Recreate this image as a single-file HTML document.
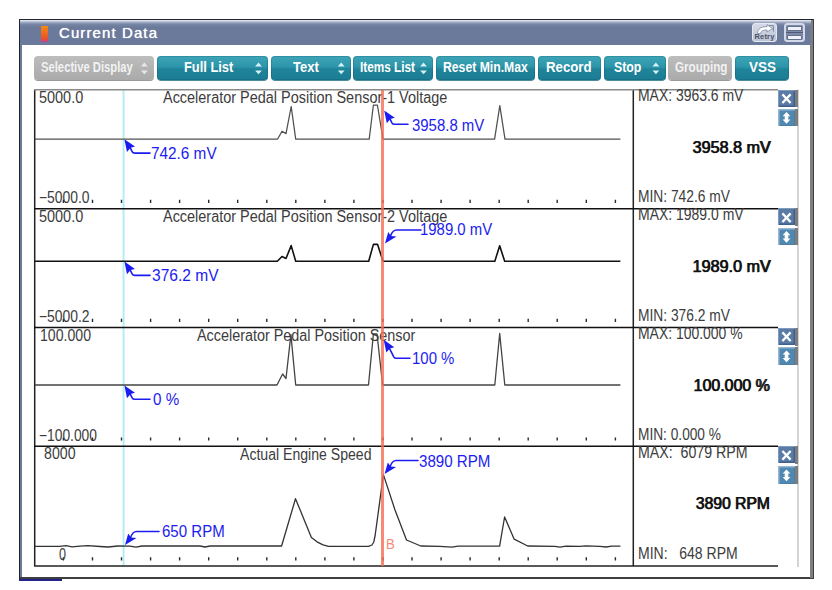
<!DOCTYPE html>
<html lang="en"><head><meta charset="utf-8"><title>Current Data</title>
<style>
html,body{margin:0;padding:0;background:#fff}
body{width:832px;height:590px;position:relative;overflow:hidden;font-family:"Liberation Sans",sans-serif;color:#222}
.abs{position:absolute}
.tbar{position:absolute;left:20.4px;top:20px;width:791px;height:25px;background:linear-gradient(#eceff5 0,#aab4ca 2px,#7a88a7 4px,#6b7a9b 7px,#6b7a9b 100%)}
.ttl{position:absolute;left:59px;top:23px;font-size:15px;line-height:20px;color:#fff;letter-spacing:1.1px;white-space:nowrap;text-shadow:0 0 .8px #fff}
.btn{position:absolute;top:55.5px;height:24px;border-radius:4px;box-sizing:border-box;background:linear-gradient(#3fa5b8 0,#2d95aa 45%,#1f8399 55%,#1b7d94 100%);box-shadow:0 .8px 0 #15687c,inset 0 0 0 1px rgba(0,70,95,.22)}
.btn.g{background:linear-gradient(#bdbdbd,#aaa);box-shadow:0 1px 0 #999}
.bt{position:absolute;top:55.3px;height:24px;color:#fff;font-size:14px;font-weight:bold;line-height:24px;white-space:nowrap;transform-origin:0 50%}
.bt.g{color:#f2f2f2}
.lab{position:absolute;font-size:16px;line-height:18px;white-space:nowrap;color:#3c3c3c;transform-origin:0 0}
.blue{position:absolute;font-size:16px;line-height:18px;white-space:nowrap;color:#1c1cf0;transform-origin:0 0}
.big{position:absolute;font-size:16px;line-height:18px;white-space:nowrap;color:#111;transform-origin:100% 0;text-shadow:.8px 0 0 #111;-webkit-text-stroke:.25px #111}
.xb{position:absolute;left:778px;width:17.2px;height:17.6px;background:#5a7ba6;box-shadow:inset 1px 1px 0 #7f9abd,inset -1.5px -1.5px 0 #3f608d;box-sizing:border-box}
.gb{position:absolute;left:795.2px;width:2.8px;height:17.6px;background:#7d7d7d}
.ub{position:absolute;left:778px;width:17.2px;height:17.4px;background:#5088b0;box-shadow:inset 1.5px 1.5px 0 #95b8d2,inset -1px -1px 0 #4a7ea6;box-sizing:border-box}
svg{position:absolute;left:0;top:0}
</style></head><body>
<div class="abs" style="left:18.8px;top:18.6px;width:795.3px;height:560.4px;background:#3e3e40"></div>
<div class="abs" style="left:18.8px;top:18.6px;width:1.6px;height:560.4px;background:#1c2230"></div>
<div class="abs" style="left:20.4px;top:20px;width:1.2px;height:556.8px;background:#6b7a9b"></div>
<div class="abs" style="left:21.6px;top:20px;width:788.8px;height:556.8px;background:#fff"></div>
<div class="abs" style="left:810.4px;top:20px;width:2.2px;height:557.6px;background:#7f7f7f"></div>
<div class="abs" style="left:18.8px;top:18.6px;width:793.8px;height:1.4px;background:#23262e"></div>
<div class="tbar"></div>
<div class="abs" style="left:41px;top:26px;width:7px;height:16px;background:linear-gradient(#f78a12,#e8502a 80%,#c0409a)"></div>
<div class="ttl">Current Data</div>
<div class="abs" style="left:752px;top:23px;width:25px;height:19px;box-sizing:border-box;border:1px solid #e4e8f0;border-radius:3px;background:linear-gradient(#d4dae6,#bcc5d6)"></div>
<svg width="832" height="590" viewBox="0 0 832 590" fill="none"><path d="M757.5,33.5 C757.5,28.5 762,26.3 767,26.8 L767,24.6 L772.6,28.6 L767,32 L767,30 C763,29.8 761,31 760.6,33.5Z" fill="#fff" stroke="#7a869e" stroke-width="0.8" stroke-linejoin="round"/><path d="M769,25.6 H773.4 V31.6" stroke="#7a869e" stroke-width="1"/></svg>
<div class="abs" style="left:753px;top:33.4px;width:23px;text-align:center;font-size:7.5px;line-height:8px;font-weight:bold;color:#4a5266;letter-spacing:.2px">Retry</div>
<div class="abs" style="left:783.5px;top:23px;width:21px;height:19px;box-sizing:border-box;border:2px solid #d3d9e6;border-radius:3.5px;background:#7c89a8"></div>
<div class="abs" style="left:787.5px;top:27px;width:13px;height:3.4px;background:#eef1f7;box-shadow:0 0 0 .6px #55627f"></div>
<div class="abs" style="left:787.5px;top:35.6px;width:13px;height:3.4px;background:#eef1f7;box-shadow:0 0 0 .6px #55627f"></div>
<div class="abs" style="left:785.5px;top:32.4px;width:17px;height:1px;background:#4f5b78"></div>

<svg width="832" height="590" viewBox="0 0 832 590" style="z-index:3;pointer-events:none">
<path d="M140.9,66.4 L144.3,62.6 L147.70000000000002,66.4Z M140.9,70.4 L144.3,74.2 L147.70000000000002,70.4Z" fill="#e8e8e8"/>
<path d="M255.1,66.4 L258.5,62.6 L261.9,66.4Z M255.1,70.4 L258.5,74.2 L261.9,70.4Z" fill="#d4f2f8"/>
<path d="M337.8,66.4 L341.2,62.6 L344.59999999999997,66.4Z M337.8,70.4 L341.2,74.2 L344.59999999999997,70.4Z" fill="#d4f2f8"/>
<path d="M420.1,66.4 L423.5,62.6 L426.9,66.4Z M420.1,70.4 L423.5,74.2 L426.9,70.4Z" fill="#d4f2f8"/>
<path d="M652.5,66.4 L655.9,62.6 L659.3,66.4Z M652.5,70.4 L655.9,74.2 L659.3,70.4Z" fill="#d4f2f8"/>
</svg>
<div class="btn g" style="left:34px;width:120px"></div>
<div class="bt g" style="left:41.3px;transform:scaleX(0.803)">Selective Display</div>
<div class="btn " style="left:157px;width:111px"></div>
<div class="bt " style="left:184px;transform:scaleX(0.918)">Full List</div>
<div class="btn " style="left:271px;width:80px"></div>
<div class="bt " style="left:292.6px;transform:scaleX(0.929)">Text</div>
<div class="btn " style="left:353px;width:80px"></div>
<div class="bt " style="left:360.3px;transform:scaleX(0.842)">Items List</div>
<div class="btn " style="left:436px;width:99px"></div>
<div class="bt " style="left:443px;transform:scaleX(0.872)">Reset Min.Max</div>
<div class="btn " style="left:538px;width:63px"></div>
<div class="bt " style="left:545.7px;transform:scaleX(0.944)">Record</div>
<div class="btn " style="left:604px;width:62px"></div>
<div class="bt " style="left:614px;transform:scaleX(0.881)">Stop</div>
<div class="btn g" style="left:668px;width:64px"></div>
<div class="bt g" style="left:674.5px;transform:scaleX(0.833)">Grouping</div>
<div class="btn " style="left:735px;width:54px"></div>
<div class="bt " style="left:748.6px;transform:scaleX(0.964)">VSS</div>
<div class="abs" style="left:18.8px;top:578.6px;width:43.2px;height:2.2px;background:#23238c"></div>
<svg width="832" height="590" viewBox="0 0 832 590" fill="none">
<rect x="122.6" y="90" width="1.9" height="476" fill="#aeeef0"/>
<path d="M34.7,89.5 V566" stroke="#222" stroke-width="1.5"/>
<path d="M633.3,89.5 V566" stroke="#222" stroke-width="1.5"/>
<path d="M798,89.5 V567" stroke="#cdcdcd" stroke-width="1.7"/>
<path d="M34,89.7 H778" stroke="#8a8a8a" stroke-width="1.5"/>
<path d="M34,208.7 H778" stroke="#111" stroke-width="1.5"/>
<path d="M34,327.6 H778" stroke="#111" stroke-width="1.5"/>
<path d="M34,446.3 H778" stroke="#111" stroke-width="1.5"/>
<path d="M34,566 H778" stroke="#222" stroke-width="1.5"/>
<path d="M63.4,199.8v3.2M92.5,199.8v3.2M121.5,199.8v3.2M150.6,199.8v3.2M179.6,199.8v3.2M208.7,199.8v3.2M237.7,199.8v3.2M266.8,199.8v3.2M295.8,199.8v3.2M324.9,199.8v3.2M353.9,199.8v3.2M382.9,199.8v3.2M412.0,199.8v3.2M441.1,199.8v3.2M470.1,199.8v3.2M499.2,199.8v3.2M528.2,199.8v3.2M557.2,199.8v3.2M586.3,199.8v3.2M615.4,199.8v3.2" stroke="#2a2a2a" stroke-width="1.4"/>
<path d="M63.4,318.7v3.2M92.5,318.7v3.2M121.5,318.7v3.2M150.6,318.7v3.2M179.6,318.7v3.2M208.7,318.7v3.2M237.7,318.7v3.2M266.8,318.7v3.2M295.8,318.7v3.2M324.9,318.7v3.2M353.9,318.7v3.2M382.9,318.7v3.2M412.0,318.7v3.2M441.1,318.7v3.2M470.1,318.7v3.2M499.2,318.7v3.2M528.2,318.7v3.2M557.2,318.7v3.2M586.3,318.7v3.2M615.4,318.7v3.2" stroke="#2a2a2a" stroke-width="1.4"/>
<path d="M63.4,437.4v3.2M92.5,437.4v3.2M121.5,437.4v3.2M150.6,437.4v3.2M179.6,437.4v3.2M208.7,437.4v3.2M237.7,437.4v3.2M266.8,437.4v3.2M295.8,437.4v3.2M324.9,437.4v3.2M353.9,437.4v3.2M382.9,437.4v3.2M412.0,437.4v3.2M441.1,437.4v3.2M470.1,437.4v3.2M499.2,437.4v3.2M528.2,437.4v3.2M557.2,437.4v3.2M586.3,437.4v3.2M615.4,437.4v3.2" stroke="#2a2a2a" stroke-width="1.4"/>
<path d="M63.4,557.3v3.2M92.5,557.3v3.2M121.5,557.3v3.2M150.6,557.3v3.2M179.6,557.3v3.2M208.7,557.3v3.2M237.7,557.3v3.2M266.8,557.3v3.2M295.8,557.3v3.2M324.9,557.3v3.2M353.9,557.3v3.2M382.9,557.3v3.2M412.0,557.3v3.2M441.1,557.3v3.2M470.1,557.3v3.2M499.2,557.3v3.2M528.2,557.3v3.2M557.2,557.3v3.2M586.3,557.3v3.2M615.4,557.3v3.2" stroke="#2a2a2a" stroke-width="1.4"/>
<path d="M35,139.2 H277.5 L282,131.2 L286,133.6 L291.2,106.5 L295.7,139.2 H369.2 L373.4,105 H377.4 L383,139.2 H494.6 L499.8,105.6 L505,139.2 H620.4" stroke="#505050" stroke-width="1.25" stroke-linejoin="round"/>
<path d="M35,261.3 H277.3 L282,256.5 L286,258.5 L291.2,245.6 L295.7,261.3 H368.7 L373.4,244.4 H377.6 L383,261.3 H494.8 L499.7,245.8 L504.7,261.3 H620.4" stroke="#111" stroke-width="1.6" stroke-linejoin="round"/>
<path d="M35,385 H277 L282.6,374 L286,378.5 L290.9,334.6 L295.7,385 H368.5 L373.4,333.8 H377 L382.6,385 H494.8 L499.7,333.5 L504.8,385 H620.4" stroke="#444" stroke-width="1.3" stroke-linejoin="round"/>
<path d="M35,546.3 H60 L66,545.6 L72,546.8 L80,546.2 L88,545.6 L100,546.5 L108,547 L118,546 L130,546.2 L136,547.2 L142,546 H200 L205,547 L210,546 H281.6 L295.5,498.7 L311.4,537.4 L317,541.8 L323,544.8 L328.5,546.3 H368.6 L372,545 L373.8,542 L375.2,535 L383.4,474.6 L395,510 L406.5,540 L420.8,546 L440,546.3 L452,547.2 L458,546.2 H499.6 L504.6,517 L514.2,539.2 L527.7,546 L555,546.3 L560,547.2 L566,546.2 L580,546.4 L586,545.8 L600,546.4 L606,547 L612,546.2 L620.4,546.2" stroke="#333" stroke-width="1.3" stroke-linejoin="round"/>
<path d="M124.4,139.2 L135.0,146.6 L130.6,147.79999999999998 L127.0,152.0Z" fill="#1c1cf0"/>
<path d="M129.4,146.2 L132.3,151.9 Q132.9,153.1 134.8,153.1 H150" stroke="#1c1cf0" stroke-width="1.6" stroke-linecap="round" fill="none"/>
<path d="M384.2,110.4 L394.8,117.80000000000001 L390.4,119.0 L386.8,123.2Z" fill="#1c1cf0"/>
<path d="M389.2,117.4 L392.1,123.1 Q392.8,124.3 394.5,124.3 H408" stroke="#1c1cf0" stroke-width="1.6" stroke-linecap="round" fill="none"/>
<path d="M124.4,261.5 L135.0,268.9 L130.6,270.1 L127.0,274.3Z" fill="#1c1cf0"/>
<path d="M129.4,268.5 L132.3,274.2 Q132.9,275.4 134.8,275.4 H150" stroke="#1c1cf0" stroke-width="1.6" stroke-linecap="round" fill="none"/>
<path d="M385,243.5 L388.2,232.0 L391,235.9 L396.5,236.5Z" fill="#1c1cf0"/>
<path d="M390.5,236.0 C391.6,233.0 393,230.0 396.5,230.0 H421" stroke="#1c1cf0" stroke-width="1.6" stroke-linecap="round" fill="none"/>
<path d="M124.4,385.4 L135.0,392.79999999999995 L130.6,394.0 L127.0,398.2Z" fill="#1c1cf0"/>
<path d="M129.4,392.4 L132.3,398.1 Q132.9,399.3 134.8,399.3 H150" stroke="#1c1cf0" stroke-width="1.6" stroke-linecap="round" fill="none"/>
<path d="M383.7,339.8 L394.3,347.2 L389.9,348.40000000000003 L386.3,352.6Z" fill="#1c1cf0"/>
<path d="M388.7,346.8 L393.9,357.1 Q394.6,358.3 396.3,358.3 H410" stroke="#1c1cf0" stroke-width="1.6" stroke-linecap="round" fill="none"/>
<path d="M125,545 L128.2,533.5 L131,537.4 L136.5,538Z" fill="#1c1cf0"/>
<path d="M130.5,537.5 C131.6,534.5 133,531.5 136.5,531.5 H159" stroke="#1c1cf0" stroke-width="1.6" stroke-linecap="round" fill="none"/>
<path d="M384.6,474 L387.8,462.5 L390.6,466.4 L396.1,467Z" fill="#1c1cf0"/>
<path d="M390.1,466.5 C391.20000000000005,463.5 392.6,460.5 396.1,460.5 H418" stroke="#1c1cf0" stroke-width="1.6" stroke-linecap="round" fill="none"/>
</svg>
<div class="lab" style="left:162.9px;top:89.2px;transform:scaleX(0.903)">Accelerator Pedal Position Sensor-1 Voltage</div>
<div class="lab" style="left:38.7px;top:88.5px;transform:scaleX(0.903)">5000.0</div>
<div class="lab" style="left:39.4px;top:189.4px;transform:scaleX(0.868)">&minus;5000.0</div>
<div class="lab" style="left:637.6px;top:87.4px;transform:scaleX(0.871)">MAX: 3963.6 mV</div>
<div class="lab" style="left:637.6px;top:188.0px;transform:scaleX(0.862)">MIN: 742.6 mV</div>
<div class="big" style="right:62.0px;top:138.7px;transform:scaleX(1.010)">3958.8 mV</div>
<div class="xb" style="top:89.6px;height:17.3px"></div><div class="gb" style="top:89.6px;height:17.7px"></div><div class="ub" style="top:109.0px;height:17.4px"></div><div class="gb" style="top:109.0px;height:17.4px"></div>
<div class="lab" style="left:162.9px;top:208.2px;transform:scaleX(0.903)">Accelerator Pedal Position Sensor-2 Voltage</div>
<div class="lab" style="left:38.7px;top:207.5px;transform:scaleX(0.903)">5000.0</div>
<div class="lab" style="left:39.4px;top:308.4px;transform:scaleX(0.868)">&minus;5000.2</div>
<div class="lab" style="left:637.6px;top:206.4px;transform:scaleX(0.873)">MAX: 1989.0 mV</div>
<div class="lab" style="left:637.6px;top:307.0px;transform:scaleX(0.862)">MIN: 376.2 mV</div>
<div class="big" style="right:62.0px;top:257.7px;transform:scaleX(1.010)">1989.0 mV</div>
<div class="xb" style="top:208.3px;height:17.1px"></div><div class="gb" style="top:208.3px;height:17.5px"></div><div class="ub" style="top:228.0px;height:17.3px"></div><div class="gb" style="top:228.0px;height:17.3px"></div>
<div class="lab" style="left:196.6px;top:327.2px;transform:scaleX(0.899)">Accelerator Pedal Position Sensor</div>
<div class="lab" style="left:39.6px;top:326.5px;transform:scaleX(0.882)">100.000</div>
<div class="lab" style="left:39.4px;top:427.4px;transform:scaleX(0.863)">&minus;100.000</div>
<div class="lab" style="left:637.6px;top:325.4px;transform:scaleX(0.871)">MAX: 100.000 %</div>
<div class="lab" style="left:637.6px;top:426.0px;transform:scaleX(0.856)">MIN: 0.000 %</div>
<div class="big" style="right:62.0px;top:376.7px;transform:scaleX(0.996)">100.000 %</div>
<div class="xb" style="top:327.6px;height:17.6px"></div><div class="gb" style="top:327.6px;height:18.0px"></div><div class="ub" style="top:347.4px;height:17.3px"></div><div class="gb" style="top:347.4px;height:17.3px"></div>
<div class="lab" style="left:239.7px;top:445.8px;transform:scaleX(0.880)">Actual Engine Speed</div>
<div class="lab" style="left:43.5px;top:445.1px;transform:scaleX(0.885)">8000</div>
<div class="lab" style="left:59.4px;top:545.7px;transform:scaleX(0.787)">0</div>
<div class="lab" style="left:637.6px;top:444.0px;transform:scaleX(0.887)">MAX: &nbsp;6079 RPM</div>
<div class="lab" style="left:637.6px;top:544.6px;transform:scaleX(0.876)">MIN: &nbsp; 648 RPM</div>
<div class="big" style="right:62.0px;top:495.3px;transform:scaleX(0.979)">3890 RPM</div>
<div class="xb" style="top:446.3px;height:17.2px"></div><div class="gb" style="top:446.3px;height:17.6px"></div><div class="ub" style="top:466.4px;height:17.8px"></div><div class="gb" style="top:466.4px;height:17.8px"></div>
<div class="blue" style="left:151.0px;top:145.3px;transform:scaleX(0.958)">742.6 mV</div>
<div class="blue" style="left:411.5px;top:116.8px;transform:scaleX(0.934)">3958.8 mV</div>
<div class="blue" style="left:151.6px;top:267.1px;transform:scaleX(0.972)">376.2 mV</div>
<div class="blue" style="left:420.0px;top:220.6px;transform:scaleX(0.933)">1989.0 mV</div>
<div class="blue" style="left:152.6px;top:390.6px;transform:scaleX(0.947)">0 %</div>
<div class="blue" style="left:411.8px;top:349.6px;transform:scaleX(0.935)">100 %</div>
<div class="blue" style="left:161.79999999999998px;top:523.2px;transform:scaleX(0.940)">650 RPM</div>
<div class="blue" style="left:419.2px;top:452.8px;transform:scaleX(0.945)">3890 RPM</div>
<div class="abs" style="left:386px;top:535.6px;font-size:14.5px;line-height:16px;color:#f58b73;transform:scaleX(.9);transform-origin:0 0">B</div>
<svg width="832" height="590" viewBox="0 0 832 590" fill="none">
<path d="M782.4,94.39999999999999 L790.6,103.0 M790.6,94.39999999999999 L782.4,103.0" stroke="#fff" stroke-width="2.3"/>
<path d="M786.5,112.0 L790.4,116.2 H788.3 V119.6 H790.4 L786.5,123.8 L782.6,119.6 H784.7 V116.2 H782.6Z" fill="#fff"/>
<path d="M782.4,213.4 L790.6,222.0 M790.6,213.4 L782.4,222.0" stroke="#fff" stroke-width="2.3"/>
<path d="M786.5,231.0 L790.4,235.2 H788.3 V238.6 H790.4 L786.5,242.8 L782.6,238.6 H784.7 V235.2 H782.6Z" fill="#fff"/>
<path d="M782.4,332.40000000000003 L790.6,341.0 M790.6,332.40000000000003 L782.4,341.0" stroke="#fff" stroke-width="2.3"/>
<path d="M786.5,350.40000000000003 L790.4,354.6 H788.3 V358.00000000000006 H790.4 L786.5,362.20000000000005 L782.6,358.00000000000006 H784.7 V354.6 H782.6Z" fill="#fff"/>
<path d="M782.4,451.0 L790.6,459.59999999999997 M790.6,451.0 L782.4,459.59999999999997" stroke="#fff" stroke-width="2.3"/>
<path d="M786.5,469.4 L790.4,473.59999999999997 H788.3 V477.0 H790.4 L786.5,481.2 L782.6,477.0 H784.7 V473.59999999999997 H782.6Z" fill="#fff"/>
</svg>
<div class="abs" style="left:380.8px;top:90px;width:3.1px;height:476px;background:#f26e50;opacity:.8"></div>
</body></html>
